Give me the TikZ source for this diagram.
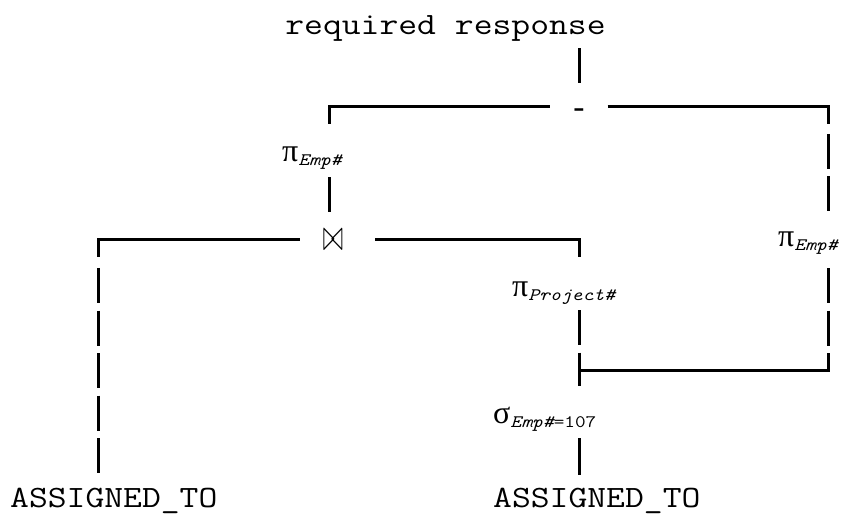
\documentclass[tikz,border=0pt]{standalone}
\usepackage{fontspec}
\setmainfont{Liberation Serif}
\setmonofont{Liberation Mono}
\newfontfamily\courier{Latin Modern Mono}[FakeStretch=1.18]

\newcommand{\asciifont}{\fontsize{31}{38}\selectfont\courier}
\newcommand{\opsub}[2]{{\fontsize{32}{38}\selectfont\rmfamily #1}\raisebox{-4pt}{\fontsize{17.5}{20}\selectfont\courier #2}}

\tikzset{
	lin/.style={line width=3pt},
	vbar/.style={line width=3pt, dash pattern=on 35pt off 7.5pt},
	ascii/.style={inner sep=0pt, font=\asciifont},
	op/.style={inner sep=0pt, anchor=base west}
}

\begin{document}
\begin{tikzpicture}[x=1pt, y=-1pt]

	\fill[white] (0,0) rectangle (843,521);
	\useasboundingbox (0,0) rectangle (843,521);

	\node[ascii, anchor=base] (resp) at (445.5,35) {required response};
	\node[inner sep=0pt, anchor=base, minimum width=57pt, font={\fontsize{32}{38}\selectfont\ttfamily}] (diff) at (579,119) {-};
	\node[op] (piL) at (282,162) {\opsub{π}{\itshape Emp\#}};
	\node[inner sep=0pt, minimum width=23pt, font={\fontsize{27}{30}\selectfont}] (join) at (333,240) {\scalebox{1}[1.8]{$\bowtie$}};
	\node[op] (piR) at (778,247) {\opsub{π}{\itshape Emp\#}};
	\node[op] (piP) at (512,297) {\opsub{π}{\itshape Project\#}};
	\node[op] (sel) at (493,423) {\opsub{σ}{{\itshape Emp\#}=107}};
	\node[ascii, anchor=base west] (asgL) at (10,507) {ASSIGNED\_TO};
	\node[ascii, anchor=base west] (asgR) at (493,507) {ASSIGNED\_TO};

	\coordinate (tl) at (329,107);
	\coordinate (tr) at (828,107);
	\coordinate (jl) at (98,240);
	\coordinate (jr) at (579,240);
	\coordinate (br) at (828,370);
	\coordinate (tee) at (579,370);

	\draw[lin] (resp.south -| diff) ++(0,6) -- ++(0,35);
	\draw[lin] (tl) ++(0,17) -- (tl) -- (tl -| diff.west);
	\draw[lin] (tr -| diff.east) -- (tr) -- ++(0,17);

	\draw[lin] (tl |- piL.south) ++(0,7) -- ++(0,35);
	\draw[lin, shorten >=21.5pt] (jl) ++(0,17) -- (jl) -- (jl -| join.west);
	\draw[lin, shorten <=30.5pt] (jr -| join.east) -- (jr) -- ++(0,17);
	\draw[vbar, shorten >=10pt] (jl) ++(0,28) -- (jl |- asgL.north);

	\draw[vbar, shorten >=14pt] (tr) ++(0,27) -- (tr |- piR.north);
	\draw[vbar, shorten >=17pt] (br |- piR.south) ++(0,13) -- (br);
	\draw[lin] (br) ++(0,-17) -- (br) -- (tee);

	\draw[vbar, shorten >=20pt] (jr |- piP.south) ++(0,5) -- (jr |- sel.north);
	\draw[lin] (jr |- sel.south) ++(0,7) -- ++(0,37);

\end{tikzpicture}
\end{document}
